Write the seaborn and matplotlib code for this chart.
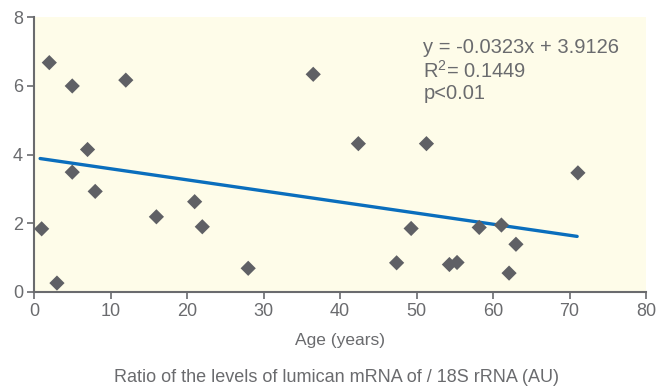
import matplotlib
matplotlib.use("Agg")
import matplotlib.pyplot as plt
import seaborn as sns
import numpy as np
import pandas as pd

# Data
age = [1, 2, 3, 5, 5, 7, 8, 12, 16, 21, 22, 28, 36.5, 42.4, 47.4, 49.3, 51.3,
       54.3, 55.3, 58.2, 61.1, 62.1, 63, 71.1]
ratio = [1.84, 6.68, 0.26, 6.0, 3.49, 4.15, 2.93, 6.17, 2.19, 2.63, 1.9, 0.69,
         6.34, 4.32, 0.85, 1.85, 4.32, 0.80, 0.86, 1.88, 1.95, 0.55, 1.39, 3.47]
slope = -0.0323
intercept = 3.9126
fit_range = [0.8, 71]
x_ticks = [0, 10, 20, 30, 40, 50, 60, 70, 80]
y_ticks = [0, 2, 4, 6, 8]
eq_lines = ["y = -0.0323x + 3.9126", "R$^2$= 0.1449", "p<0.01"]

df = pd.DataFrame({"age": age, "ratio": ratio})
fit_x = np.array(fit_range)
fit_df = pd.DataFrame({"age": fit_x, "ratio": slope * fit_x + intercept})

sns.set_style("white")
plt.rcParams["font.family"] = ["Liberation Sans", "DejaVu Sans"]
plt.rcParams["mathtext.fontset"] = "custom"
plt.rcParams["mathtext.rm"] = "Liberation Sans"

grey = "#6a6b6e"
fig = plt.figure(figsize=(6.57, 3.86), dpi=100)
ax = fig.add_axes([34 / 657, 1 - 292 / 386, (646 - 34) / 657, (292 - 17.3) / 386])
ax.set_facecolor("#fefce9")

sns.lineplot(data=fit_df, x="age", y="ratio", ax=ax, color="#0a6ebd",
             linewidth=2.4, zorder=2)
sns.scatterplot(data=df, x="age", y="ratio", ax=ax, marker="D", s=60,
                color="#5f6065", edgecolor="none", zorder=3)

ax.set_xlim(0, 80)
ax.set_ylim(0, 8)
ax.set_xticks(x_ticks)
ax.set_yticks(y_ticks)
ax.tick_params(axis="both", direction="out", length=5, width=1.2, color=grey,
               labelsize=13, labelcolor=grey, pad=3, left=True, bottom=True)
for side in ["top", "right"]:
    ax.spines[side].set_visible(False)
for side in ["left", "bottom"]:
    ax.spines[side].set_color(grey)
    ax.spines[side].set_linewidth(1.5)

ax.set_xlabel("Age (years)", fontsize=12.5, color=grey, labelpad=9)
ax.set_ylabel("")

ax.text(0.636, 0.925, "\n".join(eq_lines), transform=ax.transAxes, fontsize=14.5,
        color=grey, va="top", ha="left", linespacing=1.15)

fig.text(336 / 657, 1 - 377 / 386, "Ratio of the levels of lumican mRNA of / 18S rRNA (AU)",
         ha="center", va="center", fontsize=13, color=grey)

fig.savefig("out.png", dpi=100)
